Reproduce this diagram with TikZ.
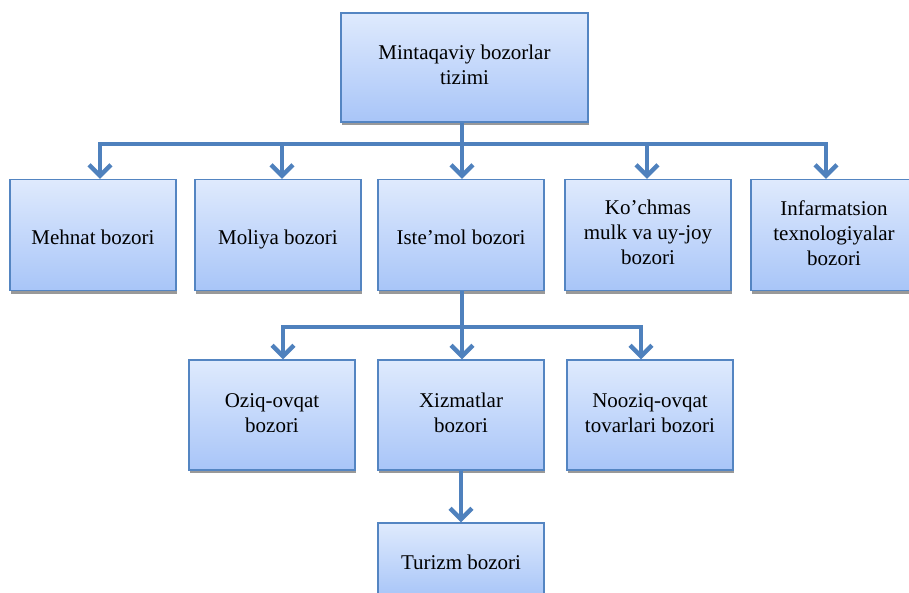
\documentclass[tikz,border=0pt]{standalone}
\usepackage{fontspec}
\setmainfont{Liberation Serif}
\usepackage{tikz}
\usetikzlibrary{arrows.meta,positioning,shadows,calc}
\definecolor{boxtop}{HTML}{DFEAFD}
\definecolor{boxbottom}{HTML}{A8C5F8}
\definecolor{boxline}{HTML}{5485C2}
\definecolor{linkblue}{HTML}{4F81BD}

\begin{document}
\begin{tikzpicture}[x=1pt, y=-1pt,
    every node/.style={font=\fontsize{21}{25}\selectfont},
    mbox/.style={draw=boxline, line width=1.1pt, top color=boxtop, bottom color=boxbottom,
      minimum width=166pt, minimum height=111pt, inner sep=0pt, align=center,
      execute at begin node={\rule{0pt}{24.5pt}}, execute at end node={\rule[-4.7pt]{0pt}{4.7pt}},
      drop shadow={shadow xshift=1pt, shadow yshift=-3pt, fill=black!40, opacity=1}},
    link/.style={draw=linkblue, line width=4pt},
    arr/.style={link, -{Straight Barb[length=11pt, width=22pt, line width=4.5pt]}}]
    \useasboundingbox (0,0) rectangle (909,592);

    % Nodes
    \node[mbox, minimum width=247pt, minimum height=109pt] (mintaqa) at (464.5,67.5) {Mintaqaviy bozorlar\\tizimi};

    \node[mbox] (mehnat) at (93,235) {Mehnat bozori};
    \node[mbox] (moliya) at (278,235) {Moliya bozori};
    \node[mbox] (istemol) at (461,235) {Iste’mol bozori};
    \node[mbox] (kochmas) at (648,235) {Ko’chmas\\mulk va uy-joy\\bozori};
    \node[mbox] (infarm) at (834,235) {Infarmatsion\\texnologiyalar\\bozori};

    \node[mbox, minimum height=110pt] (oziq) at (272,415) {Oziq-ovqat\\bozori};
    \node[mbox, minimum height=110pt] (xizmat) at (461,415) {Xizmatlar\\bozori};
    \node[mbox, minimum height=110pt] (nooziq) at (650,415) {Nooziq-ovqat\\tovarlari bozori};

    \node[mbox, minimum height=74pt] (turizm) at (461,560) {Turizm bozori};

    % Paths
    \coordinate (bus1) at (462,144);
    \coordinate (bus2) at (462,327);
    \draw[link] (mintaqa.south -| bus1) -- (bus1);
    \foreach \n/\dx in {mehnat/7, moliya/4, istemol/1, kochmas/-1, infarm/-8}
      \draw[arr] (bus1) -| ([xshift=\dx pt]\n.north);
    \draw[link] (istemol.south -| bus2) -- (bus2);
    \foreach \n/\dx in {oziq/11, xizmat/1, nooziq/-9}
      \draw[arr] (bus2) -| ([xshift=\dx pt]\n.north);
    \draw[arr] (xizmat) -- (turizm);
\end{tikzpicture}
\end{document}
